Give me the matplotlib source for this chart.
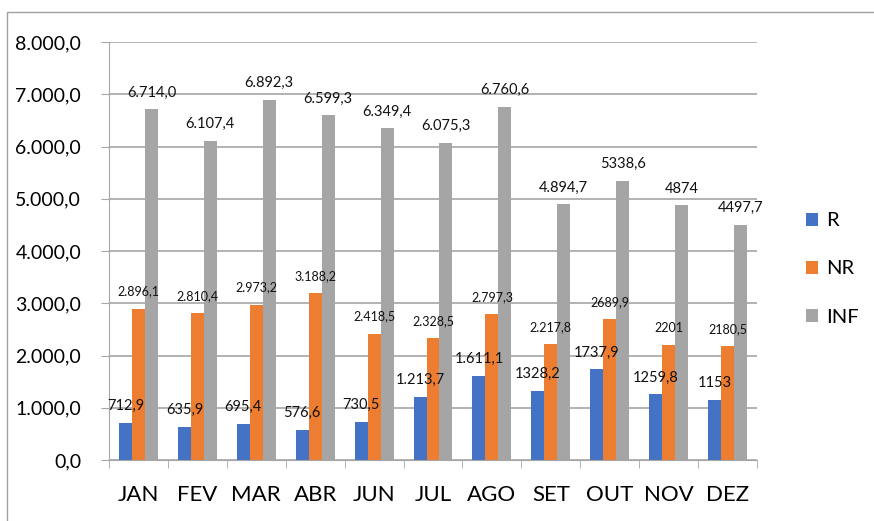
import numpy as np
import matplotlib
matplotlib.use('Agg')
import matplotlib.pyplot as plt
from matplotlib.patches import Rectangle

plt.rcParams['font.family'] = ['Lato', 'DejaVu Sans']

months = ['JAN', 'FEV', 'MAR', 'ABR', 'JUN', 'JUL', 'AGO', 'SET', 'OUT', 'NOV', 'DEZ']

r_vals = [712.9, 635.9, 695.4, 576.6, 730.5, 1213.7, 1611.1, 1328.2, 1737.9, 1259.8, 1153.0]
nr_vals = [2896.1, 2810.4, 2973.2, 3188.2, 2418.5, 2328.5, 2797.3, 2217.8, 2689.9, 2201.0, 2180.5]
inf_vals = [6714.0, 6107.4, 6892.3, 6599.3, 6349.4, 6075.3, 6760.6, 4894.7, 5338.6, 4874.0, 4497.7]

r_labels = ['712,9', '635,9', '695,4', '576,6', '730,5', '1.213,7', '1.611,1',
            '1328,2', '1737,9', '1259,8', '1153']
nr_labels = ['2.896,1', '2.810,4', '2.973,2', '3.188,2', '2.418,5', '2.328,5', '2.797,3',
             '2.217,8', '2689,9', '2201', '2180,5']
inf_labels = ['6.714,0', '6.107,4', '6.892,3', '6.599,3', '6.349,4', '6.075,3', '6.760,6',
              '4.894,7', '5338,6', '4874', '4497,7']

y_ticks = [0, 1000, 2000, 3000, 4000, 5000, 6000, 7000, 8000]
y_tick_labels = ['0,0', '1.000,0', '2.000,0', '3.000,0', '4.000,0',
                 '5.000,0', '6.000,0', '7.000,0', '8.000,0']

blue = '#4472C4'
orange = '#ED7D31'
gray = '#A5A5A5'
grid_col = '#A6A6A6'

fig = plt.figure(figsize=(8.74, 5.21), dpi=100)
ax = fig.add_axes([109 / 874, 1 - 460 / 521, 648 / 874, 418 / 521])

# outer chart border
fig.patches.append(Rectangle((7 / 874, -0.01), 1.0, 1 - 12 / 521 + 0.01,
                             transform=fig.transFigure, fill=False,
                             edgecolor='#A0A0A0', linewidth=1.0))

x = np.arange(len(months))
w = 0.22
b1 = ax.bar(x - w, r_vals, w, color=blue, label='R', zorder=3)
b2 = ax.bar(x, nr_vals, w, color=orange, label='NR', zorder=3)
b3 = ax.bar(x + w, inf_vals, w, color=gray, label='INF', zorder=3)

ax.bar_label(b1, labels=r_labels, padding=7, fontsize=10.5, color='#111111')
ax.bar_label(b2, labels=nr_labels, padding=8, fontsize=9, color='#111111')
ax.bar_label(b3, labels=inf_labels, padding=7, fontsize=10.5, color='#111111')

ax.set_xlim(-0.5, len(months) - 0.5)
ax.set_ylim(0, 8000)
ax.set_yticks(y_ticks)
ax.set_yticklabels(y_tick_labels, fontsize=14)
ax.set_xticks(x)
ax.set_xticklabels(months, fontsize=16)
ax.set_xticks(np.arange(len(months) + 1) - 0.5, minor=True)
ax.tick_params(axis='x', which='major', length=0, pad=18)
ax.tick_params(axis='x', which='minor', length=6, color=grid_col)
ax.tick_params(axis='y', length=6, color=grid_col, pad=14)

ax.grid(axis='y', color=grid_col, linewidth=1.2, zorder=0)
for s in ['top', 'right']:
    ax.spines[s].set_visible(False)
ax.spines['left'].set_color(grid_col)
ax.spines['bottom'].set_color(grid_col)
ax.spines['bottom'].set_zorder(4)

leg = fig.legend(handles=[b1, b2, b3], loc='center left',
                 bbox_to_anchor=(788 / 874, 1 - 269 / 521), frameon=False,
                 fontsize=14.5, handlelength=0.6, handleheight=0.6,
                 labelspacing=1.55, handletextpad=0.4)

fig.savefig('out.png', dpi=100)
